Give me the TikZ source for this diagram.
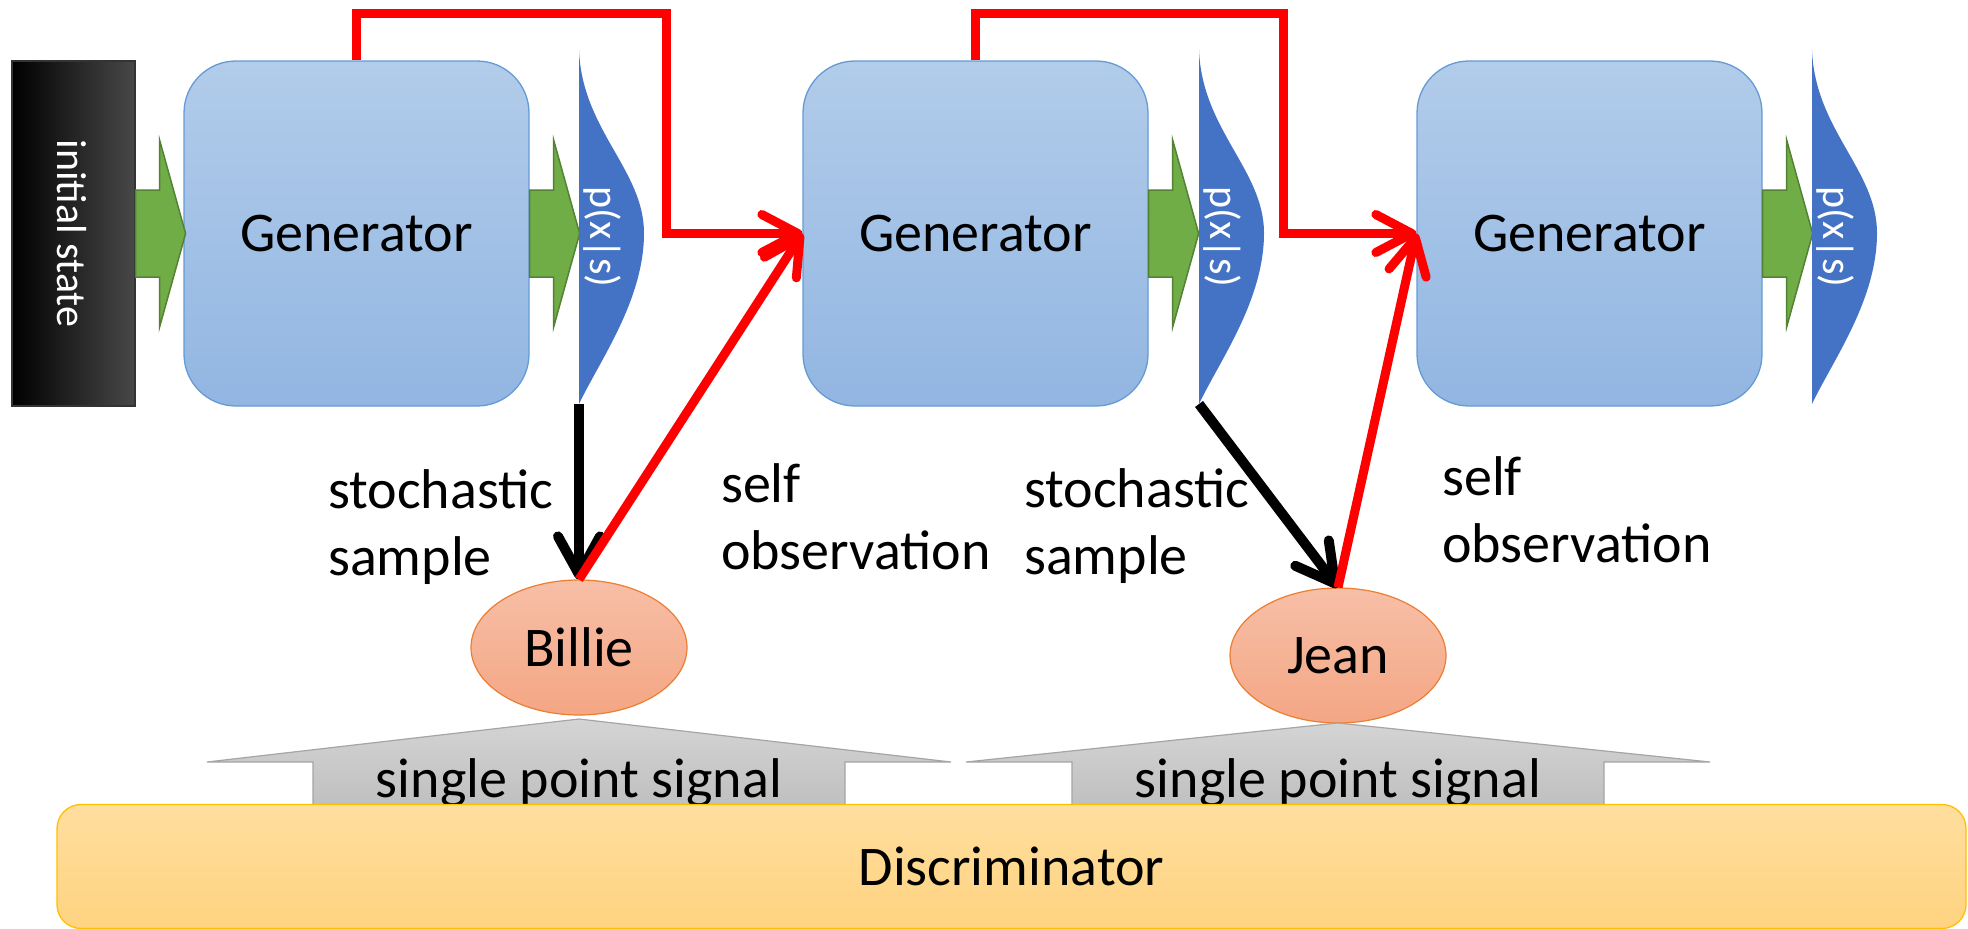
\documentclass[tikz,border=0pt]{standalone}
\usepackage{fontspec}
\setmainfont{Carlito}
\usetikzlibrary{arrows.meta,shapes.geometric}

\definecolor{genTop}{RGB}{178,204,234}
\definecolor{genBot}{RGB}{146,182,226}
\definecolor{genLine}{RGB}{101,155,213}
\definecolor{initRight}{RGB}{72,72,72}
\definecolor{fwdFill}{RGB}{112,173,71}
\definecolor{fwdLine}{RGB}{84,130,53}
\definecolor{densFill}{RGB}{68,114,196}
\definecolor{agentTop}{RGB}{247,191,167}
\definecolor{agentBot}{RGB}{244,166,132}
\definecolor{agentLine}{RGB}{237,125,49}
\definecolor{sigTop}{RGB}{212,212,212}
\definecolor{sigBot}{RGB}{190,190,190}
\definecolor{sigLine}{RGB}{165,165,165}
\definecolor{discTop}{RGB}{255,222,158}
\definecolor{discBot}{RGB}{255,211,128}
\definecolor{discLine}{RGB}{255,192,0}
\definecolor{feedRed}{RGB}{255,0,0}

\newcommand\bigfont{\fontsize{56}{67}\selectfont}
\newcommand\smallfont{\fontsize{42}{50}\selectfont}

% block arrow from a box to the next element, #1 = start point on the box edge
\newcommand\fwdshape[1]{%
  \filldraw[fwdarrow] (#1) ++(0,-43.5) -- ++(24,0) -- ++(0,-50) -- ++(26,93.5)
    -- ++(-26,93.5) -- ++(0,-50) -- ++(-24,0) -- cycle;}

% half bell curve with its label; #1 = name, #2 = x of the straight edge
\newcommand\densityshape[2]{%
  \fill[density] (#2,50) .. controls +(3,80) and +(0,-63) .. (#2+65,233)
    .. controls +(0,67) and +(21,-44) .. (#2,404) -- cycle;
  \node[vlabel] (#1) at (#2+23,237) {p(x|s)};
  \coordinate (#1-bot) at (#2,404);}

% upward block arrow feeding the discriminator; #1 = name, #2/#3 = apex
\newcommand\signalshape[3]{%
  \path[sigarrow] (#2,#3) -- (#2+372,762) -- (#2+266,762) -- (#2+266,812)
    -- (#2-266,812) -- (#2-266,762) -- (#2-372,762) -- cycle;
  \node[font=\bigfont, anchor=base, inner sep=0pt] (#1) at (#2,797) {single point signal};}

\begin{document}
\begin{tikzpicture}[x=1pt, y=-1pt,
  genbox/.style={draw=genLine, line width=1.3pt, rounded corners=52pt,
    minimum width=345pt, minimum height=345pt, inner sep=0pt,
    top color=genTop, bottom color=genBot, font=\bigfont},
  initbox/.style={draw=black!80, line width=1.2pt, minimum width=123pt,
    minimum height=345pt, inner sep=0pt,
    left color=black, middle color=black, right color=initRight},
  vlabel/.style={rotate=-90, text=white, font=\smallfont, inner sep=0pt},
  fwdarrow/.style={fill=fwdFill, draw=fwdLine, line width=1.5pt, line join=miter},
  density/.style={fill=densFill},
  agent/.style={ellipse, draw=agentLine, line width=1.2pt, minimum width=216pt,
    minimum height=135pt, inner sep=0pt, top color=agentTop,
    bottom color=agentBot, font=\bigfont},
  sigarrow/.style={draw=sigLine, line width=1.2pt, top color=sigTop, bottom color=sigBot},
  discbox/.style={draw=discLine, line width=1.3pt, rounded corners=24pt,
    minimum width=1909pt, minimum height=124pt, inner sep=0pt,
    top color=discTop, bottom color=discBot, font=\bigfont},
  % anchored at the baseline of the last line
  caption/.style={font=\bigfont, align=left, anchor=base west, inner sep=0pt},
  feedback/.style={draw=feedRed, line width=9pt, line join=miter,
    -{Straight Barb[length=36pt, width=38pt, round]}},
  sample/.style={draw=black, line width=10pt,
    -{Straight Barb[length=38pt, width=42pt, round]}},
]
\useasboundingbox (0,0) rectangle (1968,929);

% initial state
\node[initbox] (init) at (73.5,233.5) {};
\node[vlabel] (initlabel) at (72,233.5) {initial state};

% generators
\node[genbox] (gen1) at (356.5,233.5) {Generator};
\node[genbox] (gen2) at (975.5,233.5) {Generator};
\node[genbox] (gen3) at (1589.5,233.5) {Generator};

% block arrows into and out of the generators
\fwdshape{init.east}
\fwdshape{gen1.east}
\fwdshape{gen2.east}
\fwdshape{gen3.east}

% output distributions
\densityshape{dens1}{579}
\densityshape{dens2}{1199}
\densityshape{dens3}{1812}

% samples
\node[agent] (billie) at (579,647.5) {Billie};
\node[agent] (jean) at (1338,655.5) {Jean};

% signals to the discriminator
\signalshape{sig1}{579}{719}
\signalshape{sig2}{1338}{723}
\node[discbox] (disc) at (1011.5,866.5) {Discriminator};

% connectors
\draw[sample] (dens1-bot) -- (billie.north);
\draw[sample] (dens2-bot) -- (jean.north);
\draw[feedback] (gen1.north) |- (666,13) |- (gen2.west);
\draw[feedback] (gen2.north) |- (1283,13) |- (gen3.west);
\draw[feedback] (billie.north) -- (gen2.west);
\draw[feedback] (jean.north) -- (gen3.west);

% captions
\node[caption] (ss1) at (328,575) {stochastic\\sample};
\node[caption] (so1) at (721,569) {self\\observation};
\node[caption] (ss2) at (1024,574) {stochastic\\sample};
\node[caption] (so2) at (1442,562) {self\\observation};
\end{tikzpicture}
\end{document}
